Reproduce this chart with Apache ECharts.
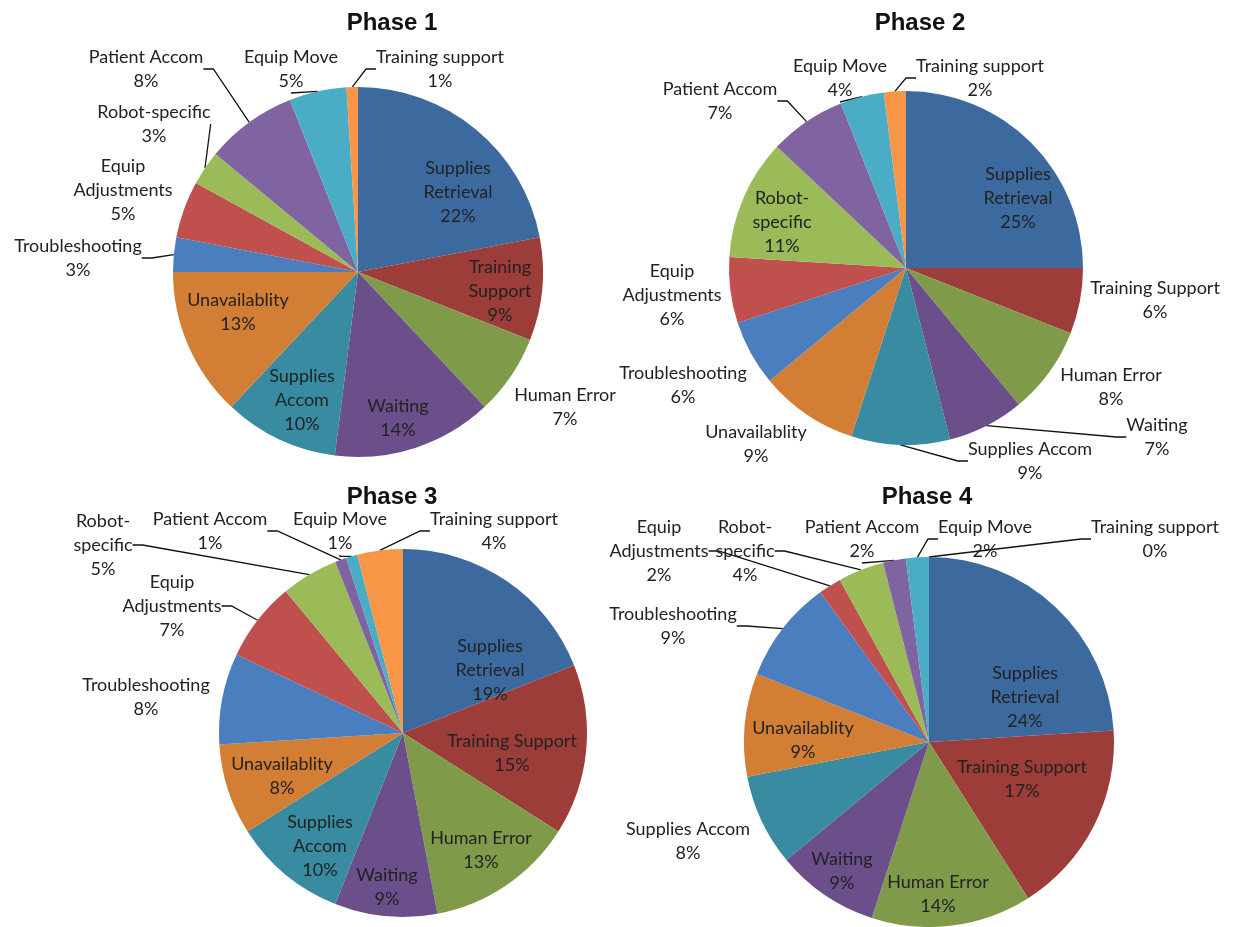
<!DOCTYPE html>
<html>
<head>
<meta charset="utf-8">
<script src="https://cdn.jsdelivr.net/npm/echarts@6/dist/echarts.min.js"></script>
<style>
  html, body { margin: 0; padding: 0; background: #ffffff; }
  #chart { width: 1239px; height: 927px; }
</style>
</head>
<body>
<div id="chart"></div>
<script>
// Categories, in clockwise order starting at 12 o'clock
const categories = ['Supplies Retrieval', 'Training Support', 'Human Error', 'Waiting', 'Supplies Accom',
  'Unavailablity', 'Troubleshooting', 'Equip Adjustments', 'Robot-specific', 'Patient Accom',
  'Equip Move', 'Training support'];

// Share of events per category (%)
const phase1Values = [22, 9, 7, 14, 10, 13, 3, 5, 3, 8, 5, 1];
const phase2Values = [25, 6, 8, 7, 9, 9, 6, 6, 11, 7, 4, 2];
const phase3Values = [19, 15, 13, 9, 10, 8, 8, 7, 5, 1, 1, 4];
const phase4Values = [24, 17, 14, 9, 8, 9, 9, 2, 4, 2, 2, 0];

const phaseTitles = ['Phase 1', 'Phase 2', 'Phase 3', 'Phase 4'];

// Label text as wrapped in each pie
const phase1Labels = ['Supplies\nRetrieval', 'Training\nSupport', 'Human Error', 'Waiting', 'Supplies\nAccom',
  'Unavailablity', 'Troubleshooting', 'Equip\nAdjustments', 'Robot-specific', 'Patient Accom', 'Equip Move', 'Training support'];
const phase2Labels = ['Supplies\nRetrieval', 'Training Support', 'Human Error', 'Waiting', 'Supplies Accom',
  'Unavailablity', 'Troubleshooting', 'Equip\nAdjustments', 'Robot-\nspecific', 'Patient Accom', 'Equip Move', 'Training support'];
const phase3Labels = ['Supplies\nRetrieval', 'Training Support', 'Human Error', 'Waiting', 'Supplies\nAccom',
  'Unavailablity', 'Troubleshooting', 'Equip\nAdjustments', 'Robot-\nspecific', 'Patient Accom', 'Equip Move', 'Training support'];
const phase4Labels = ['Supplies\nRetrieval', 'Training Support', 'Human Error', 'Waiting', 'Supplies Accom',
  'Unavailablity', 'Troubleshooting', 'Equip\nAdjustments', 'Robot-\nspecific', 'Patient Accom', 'Equip Move', 'Training support'];

const phaseValues = [phase1Values, phase2Values, phase3Values, phase4Values];
const phaseLabels = [phase1Labels, phase2Labels, phase3Labels, phase4Labels];

// Slice colours (darker accents first, then the standard accents)
const sliceColors = ['#3d6a9e', '#9d3d3a', '#7f9b4a', '#6a4f8a', '#398ba1', '#d27e35',
  '#4a7ebf', '#c0504d', '#9bbb59', '#8064a2', '#4bacc6', '#f79646'];

// Pie placement: centre, radius and title anchor
const pieLayout = [
  { center: [358, 272], radius: 185, title: [392, 23] },
  { center: [906, 268], radius: 177, title: [920, 23] },
  { center: [403, 733], radius: 184, title: [392, 497] },
  { center: [929, 742], radius: 185, title: [927, 497] }
];

// Label block centre relative to the pie centre; third entry = draw leader line
const labelPlacement = [
  [[100, -80], [142, 19], [207, 135], [40, 146], [-56, 128], [-120, 40], [-280, -14, 1], [-235, -82],
   [-204, -148, 1], [-212, -203, 1], [-67, -203, 1], [82, -203, 1]],
  [[112, -70], [249, 32], [205, 119], [251, 169, 1], [124, 193, 1], [-150, 176], [-223, 117], [-234, 27],
   [-124, -46], [-186, -167, 1], [-66, -190, 1], [74, -190, 1]],
  [[87, -63], [109, 20], [78, 117], [-16, 154], [-83, 113], [-121, 43], [-257, -36], [-231, -127, 1],
   [-300, -188, 1], [-193, -202, 1], [-63, -202, 1], [91, -202, 1]],
  [[96, -45], [93, 37], [9, 152], [-87, 129], [-241, 99], [-126, -2], [-256, -116, 1], [-270, -191, 1],
   [-184, -191, 1], [-67, -203, 1], [56, -203, 1], [226, -203, 1]]
];

const labelFont = 'Lato, "Open Sans", sans-serif';

const series = phaseValues.map(function (values, p) {
  const lay = pieLayout[p];
  const place = labelPlacement[p];
  return {
    type: 'pie',
    center: lay.center,
    radius: lay.radius,
    startAngle: 90,
    clockwise: true,
    avoidLabelOverlap: false,
    animation: false,
    silent: true,
    emphasis: { disabled: true },
    itemStyle: { borderWidth: 0 },
    label: {
      show: true,
      position: 'outside',
      color: '#222222',
      fontFamily: labelFont,
      fontSize: 18,
      lineHeight: 24,
      align: 'center'
    },
    labelLine: {
      show: true,
      length: 10,
      length2: 10,
      smooth: false,
      lineStyle: { color: '#111111', width: 1.3 }
    },
    labelLayout: function (params) {
      const o = place[params.dataIndex];
      return {
        x: lay.center[0] + o[0],
        y: lay.center[1] + o[1],
        align: 'center',
        verticalAlign: 'middle'
      };
    },
    data: values.map(function (v, i) {
      return {
        name: categories[i],
        value: v,
        label: { formatter: phaseLabels[p][i] + '\n' + v + '%' },
        labelLine: { show: !!place[i][2] }
      };
    })
  };
});

const titles = phaseTitles.map(function (t, p) {
  return {
    type: 'text',
    x: pieLayout[p].title[0],
    y: pieLayout[p].title[1],
    silent: true,
    style: {
      text: t,
      align: 'center',
      verticalAlign: 'middle',
      fill: '#111111',
      font: 'bold 24px "Liberation Sans", Arial, sans-serif'
    }
  };
});

const chart = echarts.init(document.getElementById('chart'), null, { renderer: 'canvas' });
chart.setOption({
  backgroundColor: '#ffffff',
  color: sliceColors,
  animation: false,
  graphic: titles,
  series: series
});
</script>
</body>
</html>
